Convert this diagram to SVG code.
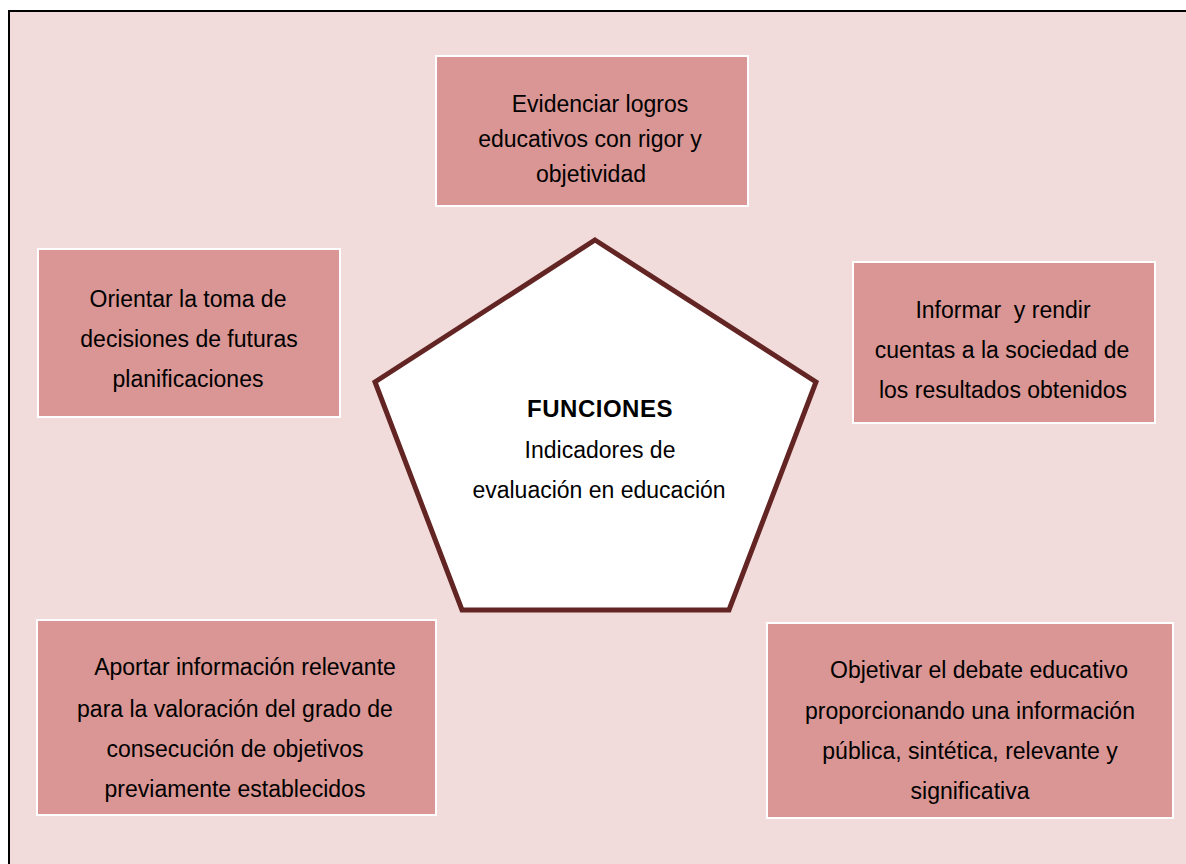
<svg xmlns="http://www.w3.org/2000/svg" width="1186" height="864" viewBox="0 0 1186 864">
<style>
.box{fill:#d99694;stroke:#ffffff;stroke-width:2}
.t{font-family:"Liberation Sans",Arial,sans-serif;font-size:23px;fill:#000;text-anchor:middle}
.b{font-weight:bold;font-size:24px}
</style>
<rect x="0" y="0" width="1186" height="864" fill="#ffffff"/>
<rect x="9" y="11" width="1190" height="870" fill="#f2dcdb" stroke="#000000" stroke-width="2"/>
<g id="connectors"></g>
<g id="n-top">
<rect class="box" x="436" y="56" width="312" height="150"/>
<text class="t" x="600" y="112">Evidenciar logros</text>
<text class="t" x="590" y="147">educativos con rigor y</text>
<text class="t" x="591" y="182">objetividad</text>
</g>
<g id="n-left">
<rect class="box" x="38" y="249" width="302" height="168"/>
<text class="t" x="188" y="307">Orientar la toma de</text>
<text class="t" x="189" y="347">decisiones de futuras</text>
<text class="t" x="188" y="387">planificaciones</text>
</g>
<g id="n-right">
<rect class="box" x="853" y="262" width="302" height="161"/>
<text class="t" x="1003" y="318">Informar&#160; y rendir</text>
<text class="t" x="1002" y="358">cuentas a la sociedad de</text>
<text class="t" x="1003" y="398">los resultados obtenidos</text>
</g>
<g id="n-center">
<polygon points="595,240 816,382 729,610 462,610 375,382" fill="#ffffff" stroke="#632523" stroke-width="5" stroke-linejoin="miter"/>
<text class="t b" x="600" y="417" letter-spacing="0.5">FUNCIONES</text>
<text class="t" x="600" y="458">Indicadores de</text>
<text class="t" x="599" y="498">evaluación en educación</text>
</g>
<g id="n-bottom-left">
<rect class="box" x="37" y="620" width="399" height="195"/>
<text class="t" x="245" y="675">Aportar información relevante</text>
<text class="t" x="235" y="717">para la valoración del grado de</text>
<text class="t" x="235" y="757">consecución de objetivos</text>
<text class="t" x="235" y="797">previamente establecidos</text>
</g>
<g id="n-bottom-right">
<rect class="box" x="767" y="623" width="406" height="195"/>
<text class="t" x="979" y="678">Objetivar el debate educativo</text>
<text class="t" x="970" y="719">proporcionando una información</text>
<text class="t" x="970" y="759">pública, sintética, relevante y</text>
<text class="t" x="970" y="799">significativa</text>
</g>
</svg>
